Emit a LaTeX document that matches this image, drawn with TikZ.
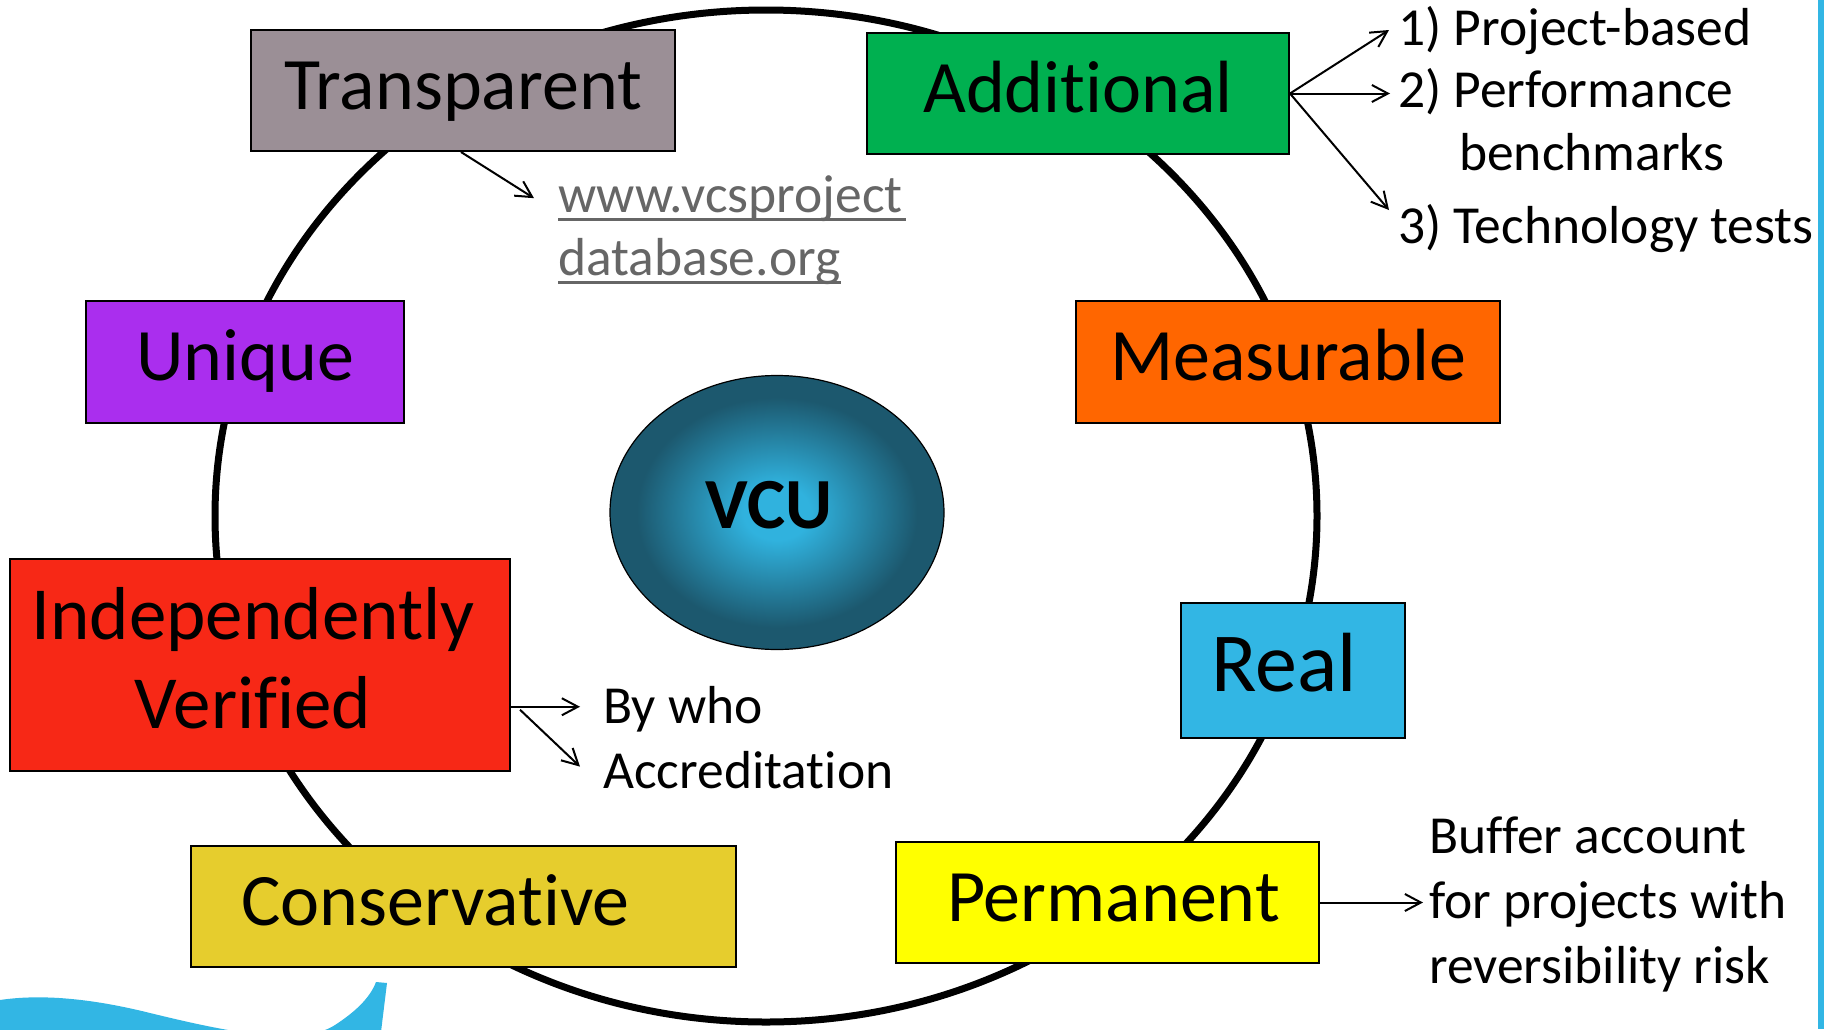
\documentclass[tikz,border=0pt]{standalone}
\usepackage{fontspec}
\setmainfont{Carlito}[Ligatures={NoCommon,TeX}]
\usetikzlibrary{arrows.meta,shapes.geometric,calc}
\definecolor{cTrans}{RGB}{155,143,150}
\definecolor{cAdd}{RGB}{0,176,80}
\definecolor{cUniq}{RGB}{170,46,238}
\definecolor{cMeas}{RGB}{255,102,0}
\definecolor{cIV}{RGB}{247,40,22}
\definecolor{cReal}{RGB}{50,182,228}
\definecolor{cCons}{RGB}{230,205,45}
\definecolor{cPerm}{RGB}{255,255,0}
\definecolor{cUrl}{RGB}{102,102,102}
\definecolor{cBlue}{RGB}{50,182,228}
\definecolor{vcuIn}{RGB}{48,178,222}
\definecolor{vcuOut}{RGB}{28,88,110}
\pgfdeclareradialshading{vcushade}{\pgfpoint{0bp}{0bp}}{color(0bp)=(vcuIn); color(5bp)=(vcuIn); color(21bp)=(vcuOut); color(25bp)=(vcuOut); color(50bp)=(vcuOut)}
\begin{document}
\begin{tikzpicture}[x=1pt,y=-1pt,
  box/.style={draw=black, line width=2pt, inner sep=0pt, font=\fontsize{74}{89}\selectfont, text height=47.6pt, text depth=10pt},
  note/.style={anchor=base west, inner sep=0pt, font=\fontsize{53.5}{64}\selectfont},
  urlnote/.style={note, text=cUrl},
  arr/.style={line width=2pt, -{Straight Barb[length=16pt,width=17pt]}},
  ringshape/.style={ellipse, draw=black, line width=7pt, inner sep=0pt}]
\useasboundingbox (0,0) rectangle (1824,1029);
\fill[white] (0,0) rectangle (1824,1029);
% decorative swoosh and side bar
\begin{scope}
\clip (0,0) rectangle (1824,1029);
\fill[cBlue] (0,1000) .. controls (40,994) and (90,998) .. (150,1013)
  .. controls (220,1030) and (300,1048) .. (335,1025)
  .. controls (355,1012) and (370,998) .. (376,982)
  -- (387,983) -- (380,1040) -- (0,1040) -- cycle;
\end{scope}
\fill[cBlue] (1818,0) rectangle (1824,1029);
% ring
\node[ringshape, minimum width=1102pt, minimum height=1012pt] (ring) at (766,516) {};
% boxes
\node[box, fill=cTrans, minimum width=424pt, minimum height=121pt] (transparent) at (463,90.5) {Transparent};
\node[box, fill=cAdd, minimum width=422pt, minimum height=121pt] (additional) at (1078,93.5) {Additional};
\node[box, fill=cUniq, minimum width=318pt, minimum height=122pt] (unique) at (245,362) {Unique};
\node[box, fill=cMeas, minimum width=424pt, minimum height=122pt] (measurable) at (1288,362) {Measurable};
\node[box, fill=cIV, minimum width=500pt, minimum height=212pt, font=\fontsize{75}{89}\selectfont, text height=48pt, text depth=100pt] (iv) at (260,665)
  {\vtop{\baselineskip=89pt \hbox to 0pt{\hss Independently\hss\kern14pt}\hbox to 0pt{\hss Verified\hss\kern14pt}}};
\node[box, fill=cReal, minimum width=224pt, minimum height=135pt, font=\fontsize{84}{100}\selectfont, text height=54pt, text depth=12pt] (real) at (1293,670.5) {Real\hspace*{18pt}};
\node[box, fill=cCons, minimum width=545pt, minimum height=121pt] (conservative) at (463.5,906.5) {Conservative\hspace*{56pt}};
\node[box, fill=cPerm, minimum width=423pt, minimum height=121pt] (permanent) at (1107.5,902.5) {\hspace*{12pt}Permanent};
% centre
\node[ellipse, draw=black, line width=1.2pt, shading=vcushade, minimum width=334pt, minimum height=274pt, inner sep=0pt,
  font=\bfseries\fontsize{72}{86}\selectfont, text height=46pt, text depth=15pt] (vcu) at (777,512.5) {VCU\hspace*{16pt}};
% notes
\node[note] (item1) at (1398,45) {1) Project-based};
\node[note] (item2) at (1398,107) {2) Performance};
\node[note] (item2b) at (1459,170) {benchmarks};
\node[note] (item3) at (1398,243) {3) Technology tests};
\node[urlnote] (url1) at (558,212) {www.vcsproject};
\node[urlnote] (url2) at (558,275) {database.org};
\node[note] (bywho) at (603,723) {By who};
\node[note] (accr) at (603,788) {Accreditation};
\node[note] (buf1) at (1429,853) {Buffer account};
\node[note] (buf2) at (1429,918) {for projects with};
\node[note] (buf3) at (1429,983) {reversibility risk};
% underlines
\draw[cUrl, line width=3pt] ($(url1.base west)+(0,7)$) -- ($(url1.base east)+(3,7)$);
\draw[cUrl, line width=3pt] ($(url2.base west)+(0,7)$) -- ($(url2.base east)+(0,7)$);
% connectors
\draw[arr] (additional.east) -- ([xshift=-9pt]item1.west);
\draw[arr] (additional.east) -- ($(additional.east -| item2.west)+(-8,0)$);
\draw[arr] (additional.east) -- ([xshift=-9pt,yshift=18pt]item3.west);
\draw[arr] ([xshift=-2pt]transparent.south) -- ([xshift=-24pt]url1.west);
\draw[arr] ($(iv.east |- bywho.west)+(0,-2)$) -- ($(bywho.west)+(-23,-2)$);
\draw[arr] ($(iv.east |- bywho.west)+(9,1)$) -- ($(accr.west)+(-23,-3)$);
\draw[arr] (permanent.east) -- ($(permanent.east -| buf2.west)+(-6,0)$);
\end{tikzpicture}
\end{document}
